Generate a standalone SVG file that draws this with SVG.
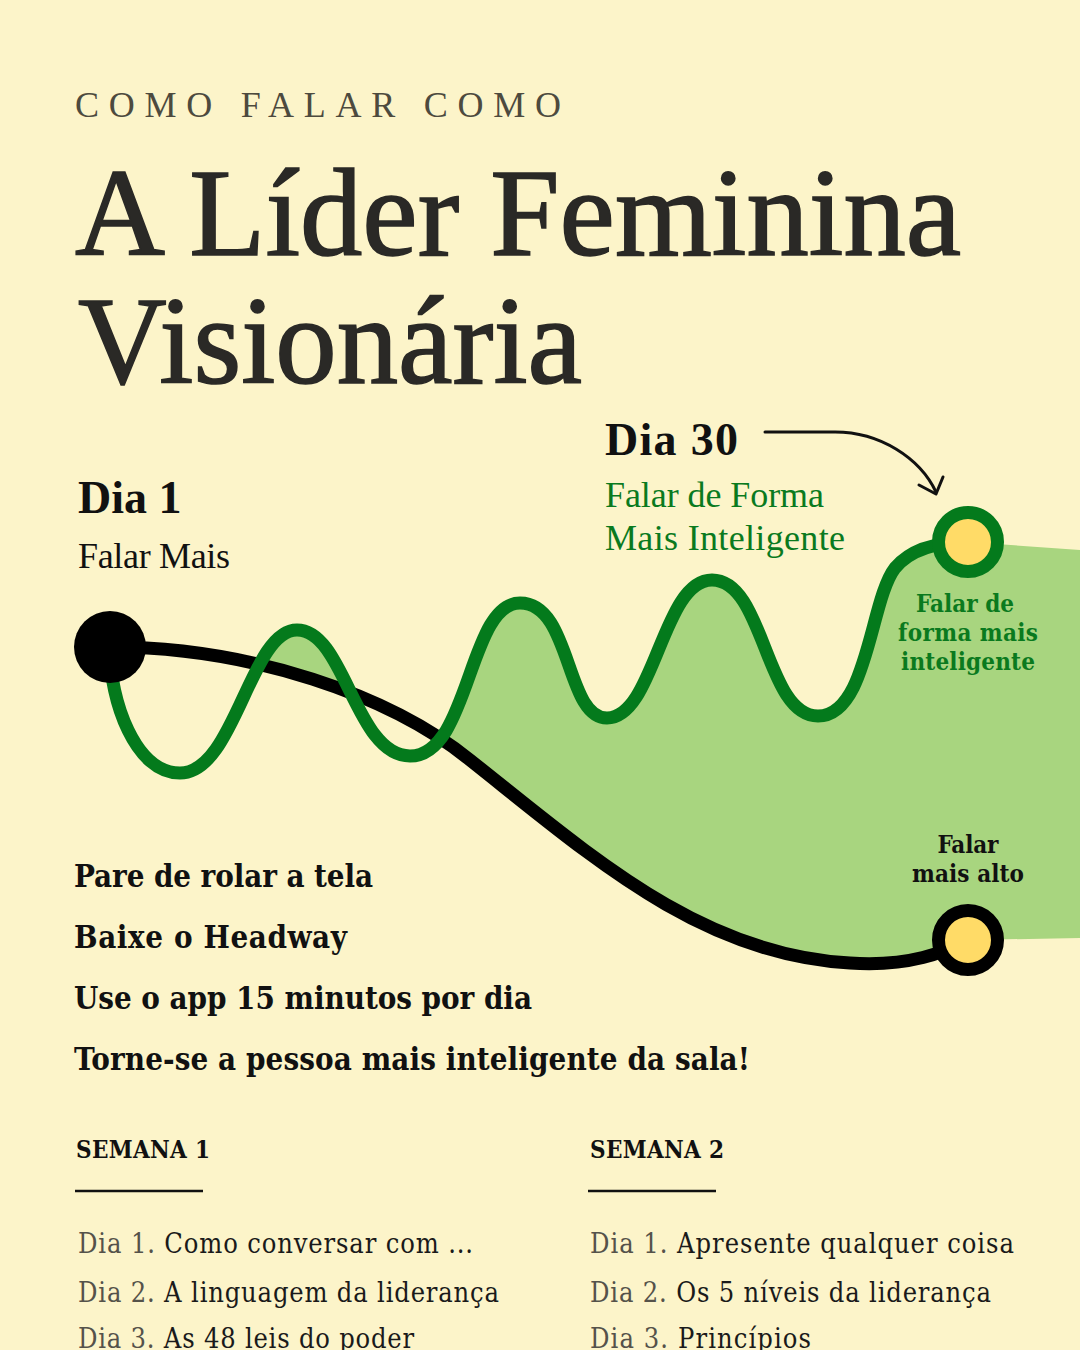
<svg xmlns="http://www.w3.org/2000/svg" width="1080" height="1350" viewBox="0 0 1080 1350">
  <defs>
    <style>
      .serif { font-family: "Liberation Serif", "DejaVu Serif", serif; }
      .slab { font-family: "DejaVu Serif Condensed", "DejaVu Serif", serif; font-stretch: condensed; }
      .title { font-family: "Liberation Serif", serif; fill: #2a2926; stroke: #2a2926; stroke-width: 1.6; }
      .bold { font-weight: bold; }
      .green { fill: #0a7a1e; }
      .dark { fill: #111111; }
      .gray { fill: #55524a; }
      .list { font-family: "DejaVu Serif Condensed", "DejaVu Serif", serif; font-stretch: condensed; font-size: 27px; fill: #1a1a1a; }
    </style>
    <clipPath id="aboveBlack">
      <path d="M0,0 L1080,0 L1080,938 L968,940 C945,952 910,967 850,963 C700,955 590,855 470,760 C390,695 250,647 110,647 L0,647 Z"/>
    </clipPath>
  </defs>

  <rect x="0" y="0" width="1080" height="1350" fill="#fcf4c9"/>

  <g id="header">
    <text class="serif" x="75" y="117" font-size="36" fill="#4d4a3e" letter-spacing="9" textLength="495" lengthAdjust="spacing">COMO FALAR COMO</text>
    <text class="title" x="75" y="255" font-size="124" textLength="886" lengthAdjust="spacingAndGlyphs">A Líder Feminina</text>
    <text class="title" x="78" y="383" font-size="124" textLength="504" lengthAdjust="spacingAndGlyphs">Visionária</text>
  </g>

  <g id="fill-area">
    <path clip-path="url(#aboveBlack)" fill="#a8d57f" d="M110,650 C110,700 135,773 180,773 C235,773 250,630 297,630 C345,630 355,756 410,756 C470,756 468,603 520,603 C572,603 565,718 607,718 C655,718 662,580 712,580 C765,580 765,716 818,716 C868,716 870,600 895,568 C910,550 935,542 968,542 L1080,550 L1080,1350 L110,1350 Z"/>
  </g>

  <g id="connectors" fill="none">
    <path id="black-curve" d="M110,647 C250,647 390,695 470,760 C590,855 700,955 850,963 C910,967 945,952 968,940" stroke="#000000" stroke-width="13" stroke-linecap="round"/>
    <path id="green-wave" d="M110,650 C110,700 135,773 180,773 C235,773 250,630 297,630 C345,630 355,756 410,756 C470,756 468,603 520,603 C572,603 565,718 607,718 C655,718 662,580 712,580 C765,580 765,716 818,716 C868,716 870,600 895,568 C910,550 935,542 968,542" stroke="#047a1c" stroke-width="13" stroke-linecap="round"/>
    <path id="arrow" d="M765,432 L835,432 C880,432 920,458 936,492" stroke="#111111" stroke-width="3" stroke-linecap="round"/>
    <polyline id="arrowhead" points="919,485 936,494 943,477" stroke="#111111" stroke-width="3" stroke-linecap="round" stroke-linejoin="round"/>
  </g>

  <g id="start-node">
    <circle cx="110" cy="647" r="36" fill="#000000"/>
    <text class="serif bold dark" x="78" y="513" font-size="46">Dia 1</text>
    <text class="serif dark" x="78" y="568" font-size="36" textLength="152" lengthAdjust="spacing">Falar Mais</text>
  </g>

  <g id="day30-node">
    <text class="serif bold dark" x="605" y="455" font-size="46" textLength="133" lengthAdjust="spacing">Dia 30</text>
    <text class="serif green" x="605" y="507" font-size="36" textLength="219" lengthAdjust="spacing">Falar de Forma</text>
    <text class="serif green" x="605" y="550" font-size="36" textLength="240" lengthAdjust="spacing">Mais Inteligente</text>
  </g>

  <g id="green-end-node">
    <circle cx="968" cy="542" r="29.5" fill="#ffdb67" stroke="#047a1c" stroke-width="13"/>
    <g class="slab bold green" font-size="24" text-anchor="middle">
      <text x="965" y="612" textLength="98" lengthAdjust="spacing">Falar de</text>
      <text x="968" y="641" textLength="140" lengthAdjust="spacing">forma mais</text>
      <text x="968" y="670" textLength="134" lengthAdjust="spacing">inteligente</text>
    </g>
  </g>

  <g id="black-end-node">
    <circle cx="968" cy="940" r="29.5" fill="#ffdb67" stroke="#000000" stroke-width="13"/>
    <g class="slab bold dark" font-size="24" text-anchor="middle">
      <text x="968" y="853" textLength="61" lengthAdjust="spacing">Falar</text>
      <text x="968" y="882" textLength="112" lengthAdjust="spacing">mais alto</text>
    </g>
  </g>

  <g id="steps" class="slab bold dark" font-size="31">
    <text x="74" y="887" textLength="299" lengthAdjust="spacing">Pare de rolar a tela</text>
    <text x="74" y="948" textLength="273" lengthAdjust="spacing">Baixe o Headway</text>
    <text x="74" y="1009" textLength="458" lengthAdjust="spacing">Use o app 15 minutos por dia</text>
    <text x="74" y="1070" textLength="676" lengthAdjust="spacing">Torne-se a pessoa mais inteligente da sala!</text>
  </g>

  <g id="week1">
    <text class="slab bold dark" x="76" y="1158" font-size="24" textLength="134" lengthAdjust="spacing">SEMANA 1</text>
    <line x1="75" y1="1191" x2="203" y2="1191" stroke="#111111" stroke-width="2.5"/>
    <text class="list" x="78" y="1253" textLength="395" lengthAdjust="spacing"><tspan class="gray">Dia 1.</tspan> Como conversar com ...</text>
    <text class="list" x="78" y="1302" textLength="421" lengthAdjust="spacing"><tspan class="gray">Dia 2.</tspan> A linguagem da liderança</text>
    <text class="list" x="78" y="1348" textLength="336" lengthAdjust="spacing"><tspan class="gray">Dia 3.</tspan> As 48 leis do poder</text>
  </g>

  <g id="week2">
    <text class="slab bold dark" x="590" y="1158" font-size="24" textLength="134" lengthAdjust="spacing">SEMANA 2</text>
    <line x1="588" y1="1191" x2="716" y2="1191" stroke="#111111" stroke-width="2.5"/>
    <text class="list" x="590" y="1253" textLength="424" lengthAdjust="spacing"><tspan class="gray">Dia 1.</tspan> Apresente qualquer coisa</text>
    <text class="list" x="590" y="1302" textLength="401" lengthAdjust="spacing"><tspan class="gray">Dia 2.</tspan> Os 5 níveis da liderança</text>
    <text class="list" x="590" y="1348" textLength="221" lengthAdjust="spacing"><tspan class="gray">Dia 3.</tspan> Princípios</text>
  </g>
</svg>
